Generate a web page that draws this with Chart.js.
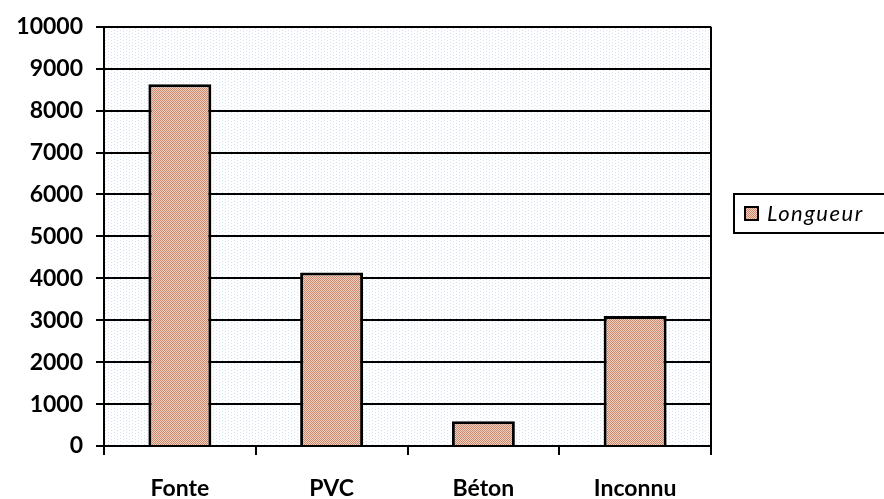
<!DOCTYPE html>
<html>
<head>
<meta charset="utf-8">
<script src="https://cdn.jsdelivr.net/npm/chart.js@4/dist/chart.umd.min.js"></script>
<style>
html,body{margin:0;padding:0;background:#fff;}
#wrap{width:884px;height:499px;}
</style>
</head>
<body>
<div id="wrap"><canvas id="c" width="884" height="499"></canvas></div>
<script>
const categories = ["Fonte", "PVC", "Béton", "Inconnu"];
const longueur = [8630, 4140, 590, 3100];
const seriesLabel = "Longueur";
const yTicks = [0, 1000, 2000, 3000, 4000, 5000, 6000, 7000, 8000, 9000, 10000];

function makePattern(size, bg, fg, pts) {
  const pc = document.createElement('canvas');
  pc.width = size; pc.height = size;
  const p = pc.getContext('2d');
  p.fillStyle = bg; p.fillRect(0, 0, size, size);
  p.fillStyle = fg;
  pts.forEach(([x, y]) => p.fillRect(x, y, 1, 1));
  return document.getElementById('c').getContext('2d').createPattern(pc, 'repeat');
}
const barPattern = makePattern(2, '#f0cfbf', '#c98a70', [[0,0],[1,1]]);
const bgPattern = makePattern(6, '#ffffff', '#d3e2f4', [[0,0],[3,1],[0,3],[3,4]]);

const bgPlugin = {
  id: 'plotBg',
  beforeDraw(chart) {
    const {ctx, chartArea: a} = chart;
    ctx.save();
    ctx.fillStyle = bgPattern;
    ctx.fillRect(a.left, a.top, a.right - a.left, a.bottom - a.top);
    ctx.restore();
  },
  afterDatasetsDraw(chart) {
    const {ctx, chartArea: a} = chart;
    ctx.save();
    ctx.strokeStyle = '#000';
    ctx.lineWidth = 2;
    ctx.beginPath();
    ctx.moveTo(a.right, a.top);
    ctx.lineTo(a.right, a.bottom);
    ctx.stroke();
    ctx.restore();
  },
  afterDraw(chart) {
    const ctx = chart.ctx;
    ctx.save();
    ctx.strokeStyle = '#000';
    ctx.lineWidth = 2;
    ctx.fillStyle = '#fff';
    ctx.fillRect(734, 194, 160, 39);
    ctx.strokeRect(734, 194, 160, 39);
    ctx.fillStyle = barPattern;
    ctx.fillRect(745, 207, 13, 13);
    ctx.strokeRect(745, 207, 13, 13);
    ctx.fillStyle = '#000';
    ctx.font = 'italic 22px Lato';
    try { ctx.letterSpacing = '1.5px'; } catch (e) {}
    ctx.textBaseline = 'middle';
    ctx.textAlign = 'left';
    ctx.fillText(chart.data.datasets[0].label, 767, 214);
    ctx.restore();
  }
};

new Chart(document.getElementById('c'), {
  type: 'bar',
  data: {
    labels: categories,
    datasets: [{
      label: seriesLabel,
      data: longueur,
      backgroundColor: barPattern,
      borderColor: '#000',
      borderWidth: 3,
      borderSkipped: 'bottom',
      barPercentage: 0.415,
      categoryPercentage: 1.0
    }]
  },
  options: {
    responsive: false,
    animation: false,
    layout: {padding: {top: 23, right: 173, left: 0, bottom: 0}},
    plugins: {legend: {display: false}, tooltip: {enabled: false}},
    scales: {
      x: {
        offset: true,
        grid: {offset: true, drawOnChartArea: false, drawTicks: true, tickLength: 9, color: '#000', lineWidth: 2},
        border: {color: '#000', width: 2},
        ticks: {color: '#000', font: {family: 'Lato', weight: 'bold', size: 23}, padding: 20},
        afterFit(axis) { axis.height = 53; }
      },
      y: {
        min: 0, max: 10000,
        afterBuildTicks(axis) { axis.ticks = yTicks.map(v => ({value: v})); },
        grid: {color: '#000', lineWidth: 2, tickLength: 8},
        border: {color: '#000', width: 2},
        ticks: {color: '#000', font: {family: 'Lato', weight: 'bold', size: 23}, padding: 13,
                callback: (v) => String(v)},
        afterFit(axis) { axis.width = 104; }
      }
    }
  },
  plugins: [bgPlugin]
});
</script>
</body>
</html>
